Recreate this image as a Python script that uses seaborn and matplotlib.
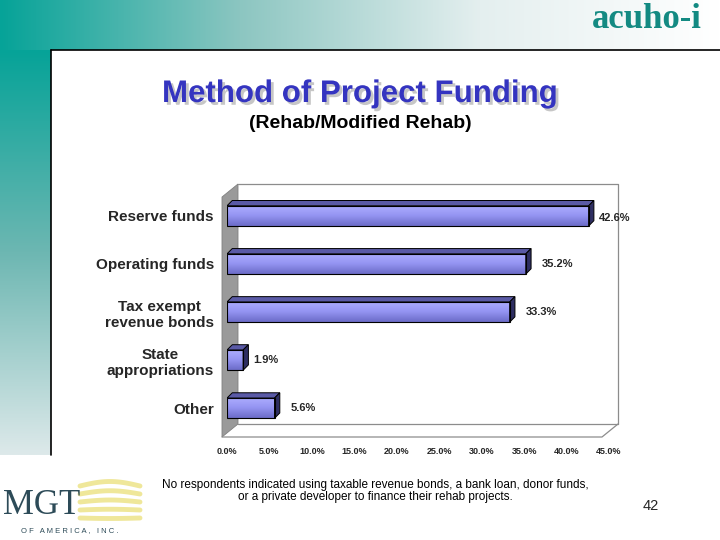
import numpy as np
import matplotlib
matplotlib.use("Agg")
import matplotlib.pyplot as plt
import matplotlib.patheffects as pe
from matplotlib import font_manager
from matplotlib.patches import Polygon, Rectangle
from matplotlib.colors import LinearSegmentedColormap
from matplotlib.transforms import ScaledTranslation
import seaborn as sns

# data
categories = ["Reserve funds", "Operating funds", "Tax exempt\nrevenue bonds",
              "State\nappropriations", "Other"]
percent = [42.6, 35.2, 33.3, 1.9, 5.6]
x_ticks = [0, 5, 10, 15, 20, 25, 30, 35, 40, 45]

title = "Method of Project Funding"
subtitle = "(Rehab/Modified Rehab)"
footnote = ("No respondents indicated using taxable revenue bonds, a bank loan, donor funds,\n"
            "or a private developer to finance their rehab projects.")
page_no = "42"

sns.set_style("white")
plt.rcParams['font.family'] = ['Liberation Sans', 'DejaVu Sans']
names = {f.name for f in font_manager.fontManager.ttflist}
narrow = 'Liberation Sans Narrow' if 'Liberation Sans Narrow' in names else 'Liberation Sans'
note_size = 9.5 if narrow == 'Liberation Sans Narrow' else 8.5

fig = plt.figure(figsize=(7.2, 5.4), dpi=100)

# background layer in pixel coordinates
bg = fig.add_axes([0, 0, 1, 1], zorder=-10)
bg.set_xlim(0, 720)
bg.set_ylim(540, 0)
bg.axis('off')

teal = "#06a398"
head = LinearSegmentedColormap.from_list("head", [teal, "#8cc6c1", "#e4efef", "#ffffff"])
bg.imshow(np.linspace(0, 1, 256)[None, :], cmap=head, extent=[0, 720, 50, 0], aspect='auto')
side = LinearSegmentedColormap.from_list("side", [teal, "#6db7b2", "#dde9ea"])
bg.imshow(np.linspace(0, 1, 256)[:, None], cmap=side, extent=[0, 51, 455, 50], aspect='auto')
bg.add_patch(Rectangle((51, 50), 669, 490, facecolor='white', edgecolor='none'))
bg.plot([51, 720], [50, 50], color='black', lw=1.2)
bg.plot([51, 51], [50, 455], color='black', lw=1.2)

# logos as text
bg.text(647, 20, "acuho-i", ha='center', va='center', fontsize=25, fontweight='bold',
        family=['Liberation Serif', 'DejaVu Serif'], color="#138a82")
bg.text(3, 506, "MGT", ha='left', va='center', fontsize=25,
        family=['Liberation Serif', 'DejaVu Serif'], color="#2d4b58")
bg.text(70, 531, "O F   A M E R I C A ,   I N C .", ha='center', va='center', fontsize=5.5,
        color="#2d4b58")
xs = np.linspace(80, 140, 40)
for k, yy in enumerate([486, 494, 502, 510, 518]):
    bg.plot(xs, yy + 2.5 * np.sin((xs - 80) / 60 * np.pi) * (k - 2) / 2 - 2 * np.sin((xs - 80) / 60 * np.pi),
            color="#efe79a", lw=3.5, solid_capstyle='round')

# titles and notes
bg.text(360, 94, title, ha='center', va='center', fontsize=22.5, fontweight='bold',
        color="#3434c0",
        path_effects=[pe.withSimplePatchShadow(offset=(2, -2), shadow_rgbFace='#b8b8b8', alpha=0.8)])
bg.text(360, 124, subtitle, ha='center', va='center', fontsize=14, fontweight='bold', color='black')
bg.text(375, 491, footnote, ha='center', va='center', fontsize=note_size, family=[narrow, 'DejaVu Sans'],
        color='black', linespacing=1.1)
bg.text(651, 506, page_no, ha='center', va='center', fontsize=10.5, family=[narrow, 'DejaVu Sans'])

# 3d frame of the chart
bg.add_patch(Polygon([(222, 197), (238, 184), (238, 424), (222, 437)], closed=True,
                     facecolor="#9a9a9a", edgecolor="#808080", lw=0.6))
bg.plot([238, 618, 618], [184, 184, 424], color="#8c8c8c", lw=0.9)
bg.plot([238, 618], [424, 424], color="#8c8c8c", lw=0.9)
bg.plot([222, 602, 618], [437, 437, 424], color="#8c8c8c", lw=0.9)

# chart area
W, H = 720, 540
ax = fig.add_axes([227 / W, 1 - 437 / H, (609 - 227) / W, (437 - 188) / H])
ax.set_facecolor('none')
sns.barplot(x=percent, y=categories, orient='h', color="#9494f2", saturation=1,
            width=0.42, edgecolor='black', linewidth=0.8, ax=ax)

ax.set_xlim(0, 45)
ax.set_ylim(4.6, -0.58)
dx, dy = 0.62, 0.11
face = LinearSegmentedColormap.from_list("face", ["#aeaeff", "#9494f2", "#6c6cc8"])
for p in list(ax.patches):
    x0, y0, w, h = p.get_x(), p.get_y(), p.get_width(), p.get_height()
    img = ax.imshow(np.linspace(0, 1, 64)[:, None], cmap=face, aspect='auto',
                    extent=[x0, x0 + w, y0 + h, y0], zorder=2.1)
    img.set_clip_path(p)
    ax.add_patch(Polygon([(x0, y0), (x0 + w, y0), (x0 + w + dx, y0 - dy), (x0 + dx, y0 - dy)],
                         closed=True, facecolor="#5a5aa6", edgecolor='black', lw=0.7, zorder=2.2))
    ax.add_patch(Polygon([(x0 + w, y0), (x0 + w, y0 + h), (x0 + w + dx, y0 + h - dy), (x0 + w + dx, y0 - dy)],
                         closed=True, facecolor="#2e2e62", edgecolor='black', lw=0.7, zorder=2.2))
    p.set_zorder(2.3)
    p.set_facecolor('none')
ax.set_xlim(0, 45)
ax.set_ylim(4.6, -0.58)

for i, v in enumerate(percent):
    off = 10 if i in (0, 3) else 16
    ax.annotate(f"{v:.1f}%", xy=(v, i), xytext=(off, -2 if i == 0 else 0), textcoords='offset pixels',
                va='center', ha='left', fontsize=8, fontweight='bold', annotation_clip=False)

ax.set_xticks(x_ticks)
ax.set_xticklabels([f"{t:.1f}%" for t in x_ticks], fontsize=6.5, fontweight='bold')
for lab in ax.get_xticklabels():
    lab.set_transform(lab.get_transform() + ScaledTranslation(-5 / 100, 0, fig.dpi_scale_trans))
for lab in ax.get_yticklabels():
    lab.set_fontsize(11)
    lab.set_fontweight('bold')
    lab.set_multialignment('center')
ax.tick_params(axis='both', length=0)
ax.tick_params(axis='x', pad=7)
ax.tick_params(axis='y', pad=9.5)
ax.set_xlabel("")
ax.set_ylabel("")
for s in ax.spines.values():
    s.set_visible(False)

fig.savefig("out.png", dpi=100)
